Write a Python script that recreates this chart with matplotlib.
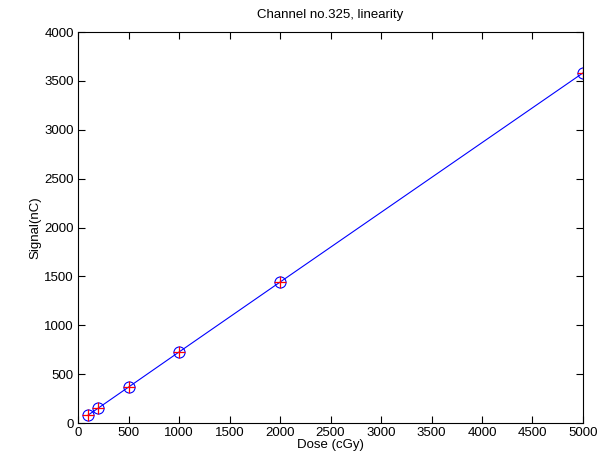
import matplotlib
matplotlib.use("Agg")
import matplotlib.pyplot as plt

# dose values (cGy) and measured signal (nC)
dose = [100, 200, 500, 1000, 2000, 5000]
signal = [82, 153, 368, 727, 1442, 3582]

x_ticks = [0, 500, 1000, 1500, 2000, 2500, 3000, 3500, 4000, 4500, 5000]
y_ticks = [0, 500, 1000, 1500, 2000, 2500, 3000, 3500, 4000]

plt.rcParams['font.family'] = ['Liberation Sans', 'DejaVu Sans']
plt.rcParams['font.size'] = 9.5

fig = plt.figure(figsize=(6.01, 4.65), dpi=100)
ax = fig.add_axes([0.13, 0.0903, 0.84, 0.8407])

ax.plot(dose, signal, color='blue', linewidth=0.8)
ax.plot(dose, signal, 'o', markerfacecolor='none', markeredgecolor='blue',
        markersize=8, markeredgewidth=0.8)
ax.plot(dose, signal, '+', color='red', markersize=8, markeredgewidth=0.9)

ax.set_xlim(0, 5000)
ax.set_ylim(0, 4000)
ax.set_xticks(x_ticks)
ax.set_yticks(y_ticks)
ax.tick_params(direction='in', top=True, right=True, length=5, width=0.8,
               pad=3)
for s in ax.spines.values():
    s.set_linewidth(0.8)

ax.set_title('Channel no.325, linearity', fontsize=9.5, pad=10)
ax.set_xlabel('Dose (cGy)', labelpad=0)
ax.set_ylabel('Signal(nC)', labelpad=2)

fig.savefig('out.png', dpi=100)
